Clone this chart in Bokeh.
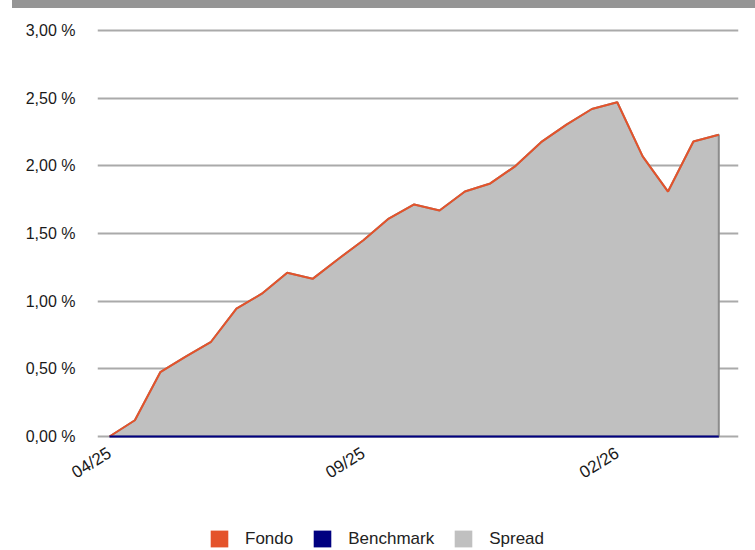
from bokeh.plotting import figure
from bokeh.models import (ColumnDataSource, FixedTicker, Legend, LegendItem,
                          Range1d, Div)
from bokeh.layouts import column
from bokeh.embed import file_html
from bokeh.resources import INLINE

# ---- data ----
period_index = list(range(25))
fondo = [0.00, 0.12, 0.475, 0.59, 0.70, 0.945, 1.055, 1.21, 1.165, 1.31,
         1.45, 1.61, 1.715, 1.67, 1.81, 1.87, 2.00, 2.175, 2.305, 2.42,
         2.47, 2.07, 1.81, 2.18, 2.23]
benchmark = [0.0] * 25
x_tick_positions = [0, 10, 20]
x_tick_labels = ["04/25", "09/25", "02/26"]
y_ticks = [0.0, 0.5, 1.0, 1.5, 2.0, 2.5, 3.0]
y_tick_labels = ["0,00 %", "0,50 %", "1,00 %", "1,50 %", "2,00 %", "2,50 %", "3,00 %"]
series_names = ["Fondo", "Benchmark", "Spread"]
series_colors = ["#e4532b", "#000080", "#c0c0c0"]

FONT = "Liberation Sans"

p = figure(width=747, height=492, output_backend="svg", toolbar_location=None,
           x_range=Range1d(-0.473, 24.776), y_range=Range1d(-0.0148, 3.0148),
           min_border_left=97, min_border_right=9, min_border_top=20,
           min_border_bottom=62)
p.outline_line_color = None
p.background_fill_color = "white"

# grid
p.xgrid.grid_line_color = None
p.ygrid.grid_line_color = "#aaaaaa"
p.ygrid.grid_line_width = 2

# spread area (between benchmark and fondo)
patch_x = period_index + period_index[::-1]
patch_y = fondo + benchmark[::-1]
p.patch(patch_x, patch_y, fill_color=series_colors[2], line_color="#8c8c8c",
        line_width=2)

src = ColumnDataSource(dict(x=period_index, fondo=fondo, bench=benchmark))
p.line("x", "fondo", source=src, line_color=series_colors[0], line_width=2)
p.line("x", "bench", source=src, line_color=series_colors[1], line_width=2)

# axes
p.yaxis.ticker = FixedTicker(ticks=y_ticks)
p.yaxis.major_label_overrides = {t: l for t, l in zip(y_ticks, y_tick_labels)}
p.xaxis.ticker = FixedTicker(ticks=x_tick_positions)
p.xaxis.major_label_overrides = {t: l for t, l in zip(x_tick_positions, x_tick_labels)}
for ax in (p.xaxis, p.yaxis):
    ax.axis_line_color = None
    ax.major_tick_line_color = None
    ax.minor_tick_line_color = None
    ax.major_tick_out = 0
    ax.major_tick_in = 0
    ax.minor_tick_out = 0
    ax.major_label_text_font = FONT
    ax.major_label_text_font_size = "16px"
    ax.major_label_text_color = "#1a1a1a"
p.yaxis.major_label_standoff = 22
p.xaxis.major_label_standoff = 13
p.xaxis.major_label_orientation = 0.56
p.xaxis.major_label_text_font_size = "17px"

# legend (separate strip below the chart) with square swatches;
# the swatch renderers sit outside the strip's visible range
lf = figure(width=747, height=50, output_backend="svg", toolbar_location=None,
            x_range=Range1d(0, 1), y_range=Range1d(0, 1),
            min_border_left=0, min_border_right=0, min_border_top=0,
            min_border_bottom=0)
lf.axis.visible = False
lf.grid.visible = False
lf.outline_line_color = None
dummy = []
for c in series_colors:
    r = lf.quad(left=[5], right=[6], top=[6], bottom=[5], fill_color=c, line_color=None)
    dummy.append(r)
legend = Legend(items=[LegendItem(label=n, renderers=[r]) for n, r in zip(series_names, dummy)],
                orientation="horizontal", location=(111, 1))
legend.border_line_color = None
legend.background_fill_alpha = 0
legend.padding = 0
legend.margin = 0
legend.spacing = 18
legend.label_standoff = 15
legend.glyph_width = 22
legend.glyph_height = 21
legend.label_height = 21
legend.label_text_font = FONT
legend.label_text_font_size = "17px"
legend.label_text_color = "#222222"
lf.add_layout(legend, "center")

band = Div(text="", width=743, height=8, margin=(0, 0, 0, 12),
           styles={"background-color": "#959595"})

layout = column(band, p, lf, spacing=0)
open("out.html", "w").write(file_html(layout, INLINE))
